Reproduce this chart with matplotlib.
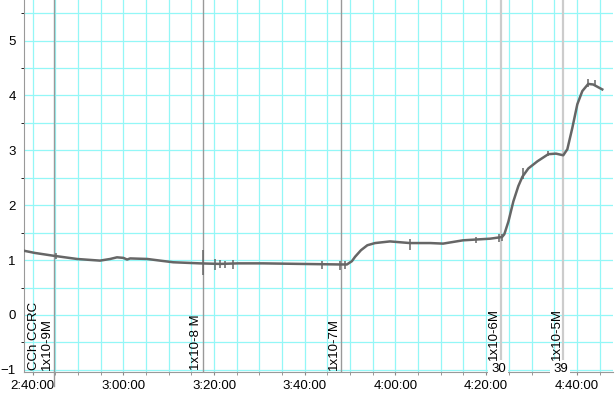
import matplotlib
matplotlib.use('Agg')
import matplotlib.pyplot as plt
from matplotlib.ticker import MultipleLocator, FuncFormatter

plt.rcParams['font.family'] = ['Liberation Sans', 'DejaVu Sans']

# trace (time of day, response)
times = ['2:38:06', '2:40:30', '2:44:30', '2:49:48', '2:54:52', '2:57:06', '2:58:36',
         '3:00:00', '3:00:50', '3:01:30', '3:05:18', '3:08:06', '3:11:00', '3:16:54',
         '3:21:18', '3:25:18', '3:30:48', '3:39:00', '3:47:48', '3:49:18', '3:50:24',
         '3:51:06', '3:52:24', '3:53:48', '3:55:30', '3:58:48', '4:03:12', '4:07:42',
         '4:10:30', '4:14:54', '4:20:54', '4:23:30', '4:24:00', '4:24:54', '4:26:00',
         '4:27:06', '4:28:00', '4:29:18', '4:31:18', '4:33:42', '4:35:24', '4:37:00',
         '4:37:54', '4:39:00', '4:40:06', '4:41:12', '4:42:30', '4:43:36', '4:45:36']
values = [1.17, 1.13, 1.08, 1.02, 0.99, 1.02, 1.05,
          1.04, 1.01, 1.03, 1.02, 0.99, 0.96, 0.94,
          0.93, 0.94, 0.94, 0.93, 0.92, 0.92, 0.98,
          1.06, 1.18, 1.27, 1.31, 1.34, 1.31, 1.31,
          1.30, 1.36, 1.39, 1.42, 1.47, 1.70, 2.07,
          2.35, 2.52, 2.67, 2.80, 2.93, 2.94, 2.91,
          3.02, 3.41, 3.84, 4.08, 4.21, 4.20, 4.11]

# short artefact spikes on the trace
spike_times = ['2:45:10', '3:17:35', '3:20:14', '3:21:20', '3:22:25', '3:24:12', '3:43:48',
               '3:47:48', '3:48:54', '4:03:12', '4:17:48', '4:22:54', '4:23:30', '4:28:12',
               '4:33:42', '4:42:30', '4:44:00']
spike_lo = [1.02, 0.73, 0.82, 0.86, 0.86, 0.84, 0.83, 0.82, 0.84, 1.18, 1.32, 1.33, 1.35,
            2.47, 2.89, 4.15, 4.17]
spike_hi = [1.12, 1.19, 1.02, 1.00, 0.99, 1.00, 0.99, 0.98, 0.98, 1.39, 1.42, 1.48, 1.47,
            2.67, 2.98, 4.30, 4.28]

# drug addition markers
marker_times = ['2:44:43', '3:17:35', '3:48:00', '4:23:18', '4:37:00']
marker_labels = ['CCh CCRC\n1x10-9M', '1x10-8 M', '1x10-7M', '1x10-6M', '1x10-5M']
marker_counts = ['', '', '', '30', '39']


def to_min(s):
    h, m, sec = s.split(':')
    return int(h) * 60 + int(m) + int(sec) / 60


def fmt(v, pos):
    total = int(round(v * 60))
    return f'{total // 3600}:{total // 60 % 60:02d}:{total % 60:02d}'


t = [to_min(s) for s in times]
st = [to_min(s) for s in spike_times]
mt = [to_min(s) for s in marker_times]

fig = plt.figure(figsize=(6.15, 4.0), dpi=100)
ax = fig.add_axes([0.039, 0.07, 0.958, 0.93])

ax.set_xlim(to_min('2:38:06'), to_min('4:48:00'))
ax.set_ylim(-1.04, 5.74)

ax.xaxis.set_major_locator(MultipleLocator(20))
ax.xaxis.set_minor_locator(MultipleLocator(5))
ax.xaxis.set_major_formatter(FuncFormatter(fmt))
ax.yaxis.set_major_locator(MultipleLocator(1))
ax.yaxis.set_minor_locator(MultipleLocator(0.5))
ax.grid(True, which='both', color='#93f7f7', lw=0.9)
ax.set_axisbelow(True)

for side in ['top', 'right']:
    ax.spines[side].set_visible(False)
ax.spines['left'].set_color('#999999')
ax.spines['bottom'].set_color('#999999')
ax.tick_params(axis='y', length=0, pad=6, labelsize=9.5)
ax.tick_params(axis='x', which='both', length=2.5, color='#888888', pad=3, labelsize=9.5)

for i, x in enumerate(mt):
    light = marker_counts[i] != ''
    ax.axvline(x, color='#cccccc' if light else '#999999', lw=1.6 if light else 1.0,
               zorder=2)
    if light:
        ax.text(x - 0.15, -0.82, marker_labels[i], rotation=90, ha='right', va='bottom',
                fontsize=9.5, zorder=5)
        ax.annotate(marker_counts[i], (x, -0.98), xytext=(-2, 0),
                    textcoords='offset points', ha='center', va='center', fontsize=9.5,
                    zorder=4, bbox=dict(boxstyle='square,pad=0.2', fc='white', ec='none'))
    else:
        ax.text(x - 0.15, -1.01, marker_labels[i], rotation=90, ha='right', va='bottom',
                fontsize=9.5, multialignment='left', linespacing=1.15, zorder=5)

ax.plot([mt[0], mt[0]], [-1.04, -1.3], color='#999999', lw=1.0, clip_on=False)

ax.plot(t, values, color='#666666', lw=1.8, zorder=3)
ax.vlines(st, spike_lo, spike_hi, color='#666666', lw=1.1, zorder=3)

fig.savefig('out.png', dpi=100)
